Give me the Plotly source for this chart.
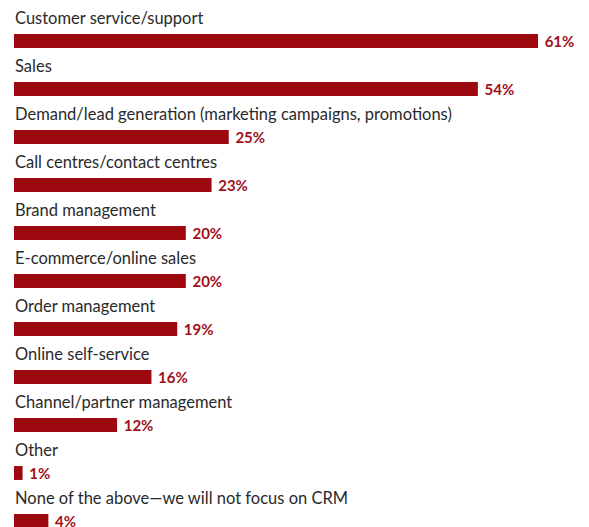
import plotly.graph_objects as go

categories = [
    "Customer service/support",
    "Sales",
    "Demand/lead generation (marketing campaigns, promotions)",
    "Call centres/contact centres",
    "Brand management",
    "E-commerce/online sales",
    "Order management",
    "Online self-service",
    "Channel/partner management",
    "Other",
    "None of the above\u2014we will not focus on CRM",
]
values = [61, 54, 25, 23, 20, 20, 19, 16, 12, 1, 4]

BAR = "#9E0811"
rows = list(range(len(categories)))

fig = go.Figure()
fig.add_trace(go.Bar(
    x=values, y=rows, orientation="h",
    marker=dict(color=BAR, line=dict(width=0)),
    width=0.29,
    text=[f" {v}%" for v in values],
    textposition="outside",
    constraintext="none",
    cliponaxis=False,
    textfont=dict(family="Lato", size=15, color="#A0101A", weight="bold"),
    hoverinfo="skip",
))

for i, c in enumerate(categories):
    fig.add_annotation(
        x=0, y=i - 0.48, xref="x", yref="y", text=c, showarrow=False,
        xanchor="left", yanchor="middle", xshift=-1,
        font=dict(family="Lato", size=16.5, color="#2a2a2a"),
    )

fig.update_layout(
    width=589, height=527,
    margin=dict(l=14, r=14, t=0, b=0, autoexpand=False),
    paper_bgcolor="white", plot_bgcolor="white",
    showlegend=False,
    xaxis=dict(range=[0, 61 * 561 / 524], visible=False, fixedrange=True),
    yaxis=dict(range=[10.125, -0.854], visible=False, fixedrange=True),
)

fig.write_html(
    "out.html",
    config={"displayModeBar": False, "staticPlot": True},
    post_script="document.body.style.margin='0';document.body.style.overflow='hidden';",
)
